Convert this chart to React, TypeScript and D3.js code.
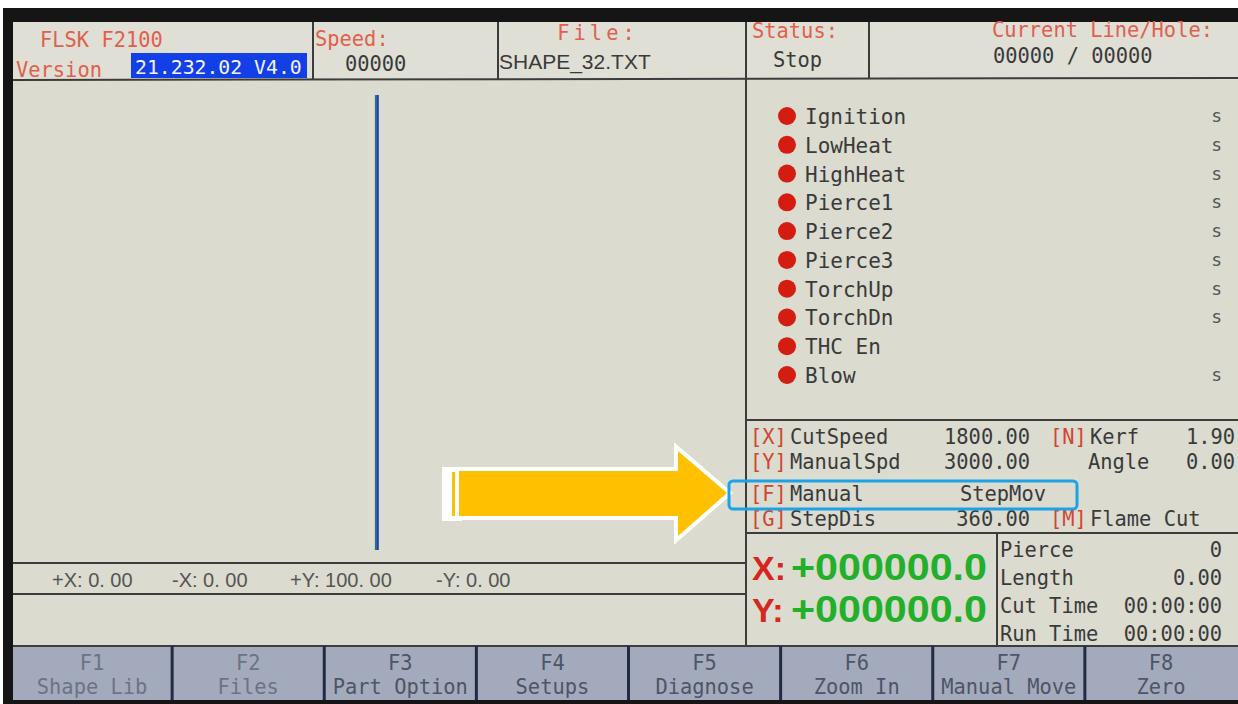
import React from "react";
import * as d3 from "d3";

// ---------- data ----------
const headerLabels = ["FLSK F2100", "Speed:", "File:", "Status:", "Current Line/Hole:"];
const headerValues = ["21.232.02 V4.0", "00000", "SHAPE_32.TXT", "Stop", "00000 / 00000"];
const signals = ["Ignition", "LowHeat", "HighHeat", "Pierce1", "Pierce2", "Pierce3", "TorchUp", "TorchDn", "THC En", "Blow"];
const signalUnits = ["s", "s", "s", "s", "s", "s", "s", "s", "", "s"];
const paramKeys = ["X", "Y", "F", "G"];
const paramLabels = ["CutSpeed", "ManualSpd", "Manual", "StepDis"];
const paramValues = ["1800.00", "3000.00", "StepMov", "360.00"];
const sideKeys = ["N", "", "", "M"];
const sideLabels = ["Kerf", "Angle", "", "Flame Cut"];
const sideValues = ["1.90", "0.00", "", ""];
const limits = ["+X:0.00", "-X:0.00", "+Y:100.00", "-Y:0.00"];
const axisNames = ["X:", "Y:"];
const axisValues = ["+000000.0", "+000000.0"];
const statLabels = ["Pierce", "Length", "Cut Time", "Run Time"];
const statValues = ["0", "0.00", "00:00:00", "00:00:00"];
const fKeys = ["F1", "F2", "F3", "F4", "F5", "F6", "F7", "F8"];
const fLabels = ["Shape Lib", "Files", "Part Option", "Setups", "Diagnose", "Zoom In", "Manual Move", "Zero"];

// ---------- styles ----------
const MONO = "'DejaVu Sans Mono', 'Liberation Mono', monospace";
const SANS = "'Liberation Sans', Arial, sans-serif";
const BG = "#dbdbd0";
const LINE = "#3c3c3c";
const RED = "#d2452f";
const RED_LIGHT = "#e0604e";
const DARK = "#3a3a3a";
const FS = 20.4;

export default function App() {
  const W = 1238, H = 704;
  const L = 13, R = 1238, TOP = 22, HB = 80, DIV = 746, FK = 646;

  const sigY = d3.scaleLinear().domain([0, signals.length - 1]).range([116, 375]);
  const parYv = [437, 462, 494, 519];
  const statY = d3.scaleLinear().domain([0, statLabels.length - 1]).range([550, 634]);
  const axY = d3.scaleLinear().domain([0, 1]).range([565, 607]);
  const fx = d3.scaleBand<string>().domain(fKeys).range([20, 1237]);
  const limX = [52, 172, 290, 436];

  const t = (x: number, y: number, s: string, o: any = {}) => (
    <text x={x} y={y} fontFamily={MONO} fontSize={FS} fill={DARK} {...o}>{s}</text>
  );

  return (
    <svg width={W} height={H} style={{ position: "fixed", left: 0, top: 0, background: "#fff" }}>
      {/* bezel */}
      <rect x={3} y={8} width={W - 3} height={H - 8} fill="#151515" />
      <rect x={L} y={TOP} width={R - L} height={FK - TOP} fill={BG} />
      {/* header */}
      <rect x={L} y={TOP} width={R - L} height={HB - TOP} fill="#dfdfd5" />
      <g stroke={LINE} strokeWidth={2}>
        <line x1={L} y1={HB} x2={R} y2={HB - 2} />
        <line x1={313} y1={TOP} x2={313} y2={HB} />
        <line x1={498} y1={TOP} x2={498} y2={HB} />
        <line x1={DIV} y1={TOP} x2={DIV} y2={FK} />
        <line x1={869} y1={TOP} x2={869} y2={HB - 2} />
        <line x1={L} y1={563} x2={DIV} y2={563} />
        <line x1={L} y1={594} x2={DIV} y2={594} />
        <line x1={DIV} y1={420} x2={R} y2={420} />
        <line x1={DIV} y1={533} x2={R} y2={533} />
        <line x1={997} y1={533} x2={997} y2={FK} />
        <line x1={L} y1={FK} x2={R} y2={FK} />
      </g>
      {t(40, 47, headerLabels[0], { fill: RED_LIGHT })}
      {t(16, 77, "Version", { fill: RED_LIGHT })}
      <rect x={131} y={53} width={176} height={25} fill="#1240e6" />
      {t(135, 74, headerValues[0], { fill: "#f4f4ff", fontSize: 19.8 })}
      {t(315, 46, headerLabels[1], { fill: RED_LIGHT })}
      {t(345, 71, headerValues[1])}
      {t(598, 40, headerLabels[2], { fill: RED_LIGHT, textAnchor: "middle", letterSpacing: 4 })}
      <text x={499} y={69} fontFamily={SANS} fontSize={21} fill={DARK}>{headerValues[2]}</text>
      {t(752, 38, headerLabels[3], { fill: RED_LIGHT })}
      {t(773, 67, headerValues[3])}
      {t(992, 37, headerLabels[4], { fill: RED_LIGHT })}
      {t(993, 63, headerValues[4])}

      {/* drawing area path */}
      <line x1={375.5} y1={95} x2={375.5} y2={550} stroke="#1e7a6a" strokeWidth={1.2} />
      <line x1={377.5} y1={95} x2={377.5} y2={550} stroke="#1d3fa8" strokeWidth={2.6} />

      {/* limits */}
      {limits.map((s, i) => (
        <text key={s} x={limX[i]} y={587} fontFamily={SANS} fontSize={20} fill="#555">{s.replace(":", ": ").replace(".", ". ")}</text>
      ))}

      {/* signals */}
      {signals.map((s, i) => (
        <g key={s}>
          <circle cx={787} cy={sigY(i)} r={9} fill="#d41c10" />
          {t(805, sigY(i) + 8, s, { fontSize: 21 })}
          {signalUnits[i] && t(1222, sigY(i) + 6, signalUnits[i], { textAnchor: "end", fill: "#555", fontSize: 18 })}
        </g>
      ))}

      {/* params */}
      {paramKeys.map((k, i) => {
        const y = parYv[i] + 7;
        return (
          <g key={k}>
            {t(750, y, `[${k}]`, { fill: RED })}
            {t(790, y, paramLabels[i])}
            {paramValues[i] && t(i === 2 ? 960 : 1030, y, paramValues[i], { textAnchor: i === 2 ? "start" : "end" })}
            {sideKeys[i] && t(1050, y, `[${sideKeys[i]}]`, { fill: RED })}
            {sideLabels[i] && t(sideKeys[i] ? 1090 : 1088, y, sideLabels[i])}
            {sideValues[i] && t(1235, y, sideValues[i], { textAnchor: "end" })}
          </g>
        );
      })}

      {/* big axis values */}
      {axisNames.map((n, i) => (
        <g key={n}>
          <text x={752} y={axY(i) + 15} fontFamily={SANS} fontWeight="bold" fontSize={34} fill="#d4281e">{n}</text>
          <text x={791} y={axY(i) + 15} fontFamily={SANS} fontWeight="bold" fontSize={37} fill="#22b02a"
            textLength={196} lengthAdjust="spacingAndGlyphs">{axisValues[i]}</text>
        </g>
      ))}

      {/* stats */}
      {statLabels.map((s, i) => (
        <g key={s}>
          {t(1000, statY(i) + 7, s)}
          {t(1222, statY(i) + 7, statValues[i], { textAnchor: "end" })}
        </g>
      ))}

      {/* function keys */}
      <rect x={L} y={FK + 1} width={R - L} height={700 - FK - 1} fill="#a3aabb" />
      {fKeys.map((k, i) => {
        const x0 = fx(k)!;
        const cx = x0 + fx.bandwidth() / 2 + (i === 0 ? -4 : 0);
        const col = i < 2 ? "#6c7386" : "#4e5566";
        return (
          <g key={k}>
            {i > 0 && <line x1={x0} y1={FK} x2={x0} y2={700} stroke="#232a48" strokeWidth={3} />}
            {t(cx, 670, k, { textAnchor: "middle", fill: col })}
            {t(cx, 694, fLabels[i], { textAnchor: "middle", fill: col })}
          </g>
        );
      })}
      <rect x={L} y={700} width={R - L} height={4} fill="#151515" />

      {/* arrow */}
      <rect x={442} y={467} width={20} height={54} fill="#fff" />
      <rect x={452} y={472} width={3} height={44} fill="#ffc000" />
      <polygon
        points="460,471 678,471 678,451 727,493 678,536 678,516 460,516"
        fill="#ffc000"
        stroke="#fff"
        strokeWidth={8}
        strokeLinejoin="miter"
        style={{ paintOrder: "stroke" }}
      />
      <rect x={459} y={471} width={10} height={45} fill="#ffc000" />
      {/* highlight box */}
      <rect x={729} y={481} width={348} height={28} rx={4} fill="none" stroke="#1ea2e6" strokeWidth={3} />
    </svg>
  );
}
